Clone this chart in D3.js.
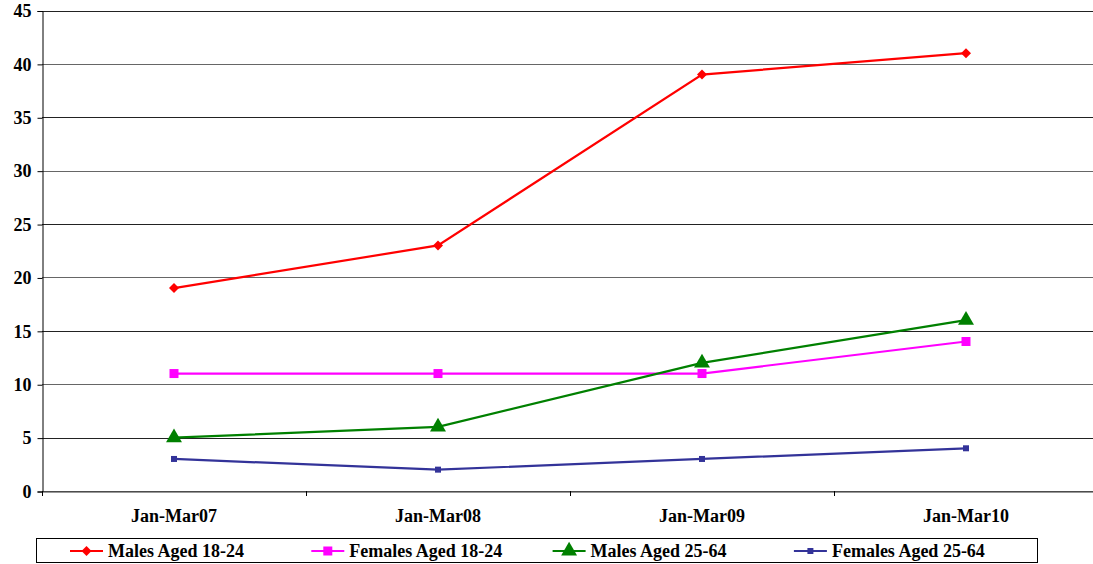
<!DOCTYPE html>
<script src='https://d3js.org/d3.v7.min.js'></script>
<html>
<body style="margin:0;background:#fff">
<div id="my_dataviz"></div>
<script>

var periods = ['Jan-Mar07', 'Jan-Mar08', 'Jan-Mar09', 'Jan-Mar10'];
var seriesNames = ['Males Aged 18-24', 'Females Aged 18-24', 'Males Aged 25-64', 'Females Aged 25-64'];
var males1824 = [19, 23, 39, 41];
var females1824 = [11, 11, 11, 14];
var males2564 = [5, 6, 12, 16];
var females2564 = [3, 2, 3, 4];
var yTicks = [0, 5, 10, 15, 20, 25, 30, 35, 40, 45];

var colors = ['#ff0000', '#ff00ff', '#008000', '#333399'];
var shapes = [d3.symbolSquare, d3.symbolSquare, d3.symbolTriangle, d3.symbolSquare];
var sizes = [50, 81, 110, 36];
var rotations = [45, 0, 0, 0];
var allSeries = [males1824, females1824, males2564, females2564];

var width = 1093, height = 564;
var plotLeft = 42, plotTop = 10.5, plotBottom = 491;

var svg = d3.select("#my_dataviz")
  .append("svg")
    .attr("width", width)
    .attr("height", height)
    .style("font-family", "'Liberation Serif', 'Times New Roman', serif")
    .style("font-weight", "bold");

var x = d3.scaleBand().domain(periods).range([plotLeft, plotLeft + 4 * 264]);
var y = d3.scaleLinear().domain([0, 45]).range([plotBottom, plotTop]);

// gridlines
svg.append("g")
  .selectAll("line")
  .data(yTicks)
  .enter().append("line")
    .attr("x1", plotLeft).attr("x2", width)
    .attr("y1", function(d) { return Math.round(y(d)) + 0.5; })
    .attr("y2", function(d) { return Math.round(y(d)) + 0.5; })
    .attr("stroke", function(d, i) { return i % 2 ? "#222" : "#666"; })
    .attr("stroke-width", 1);

// y axis
var yAxis = svg.append("g")
  .attr("transform", "translate(" + (plotLeft + 0.5) + ",0.5)")
  .call(d3.axisLeft(y).tickValues(yTicks).tickSize(5).tickPadding(6));
yAxis.select(".domain").attr("stroke", "#000");
yAxis.selectAll("text").style("font-size", "18px").style("font-family", "'Liberation Serif', serif").attr("fill", "#000");
yAxis.selectAll(".tick line").attr("stroke", "#000");

// x axis
var xAxis = svg.append("g")
  .attr("transform", "translate(0," + (Math.round(plotBottom) + 0.5) + ")")
  .call(d3.axisBottom(x).tickSize(0).tickPadding(18));
xAxis.select(".domain").attr("stroke", "#333");
xAxis.selectAll("text").style("font-size", "18px").style("font-family", "'Liberation Serif', serif").attr("fill", "#000");
svg.append("g")
  .selectAll("line")
  .data(periods)
  .enter().append("line")
    .attr("x1", function(d) { return Math.round(x(d)) + 0.5; })
    .attr("x2", function(d) { return Math.round(x(d)) + 0.5; })
    .attr("y1", plotBottom).attr("y2", plotBottom + 5)
    .attr("stroke", "#000");

// lines
var line = d3.line()
  .x(function(d, i) { return x(periods[i]) + x.bandwidth() / 2; })
  .y(function(d) { return y(d); });

allSeries.forEach(function(vals, s) {
  svg.append("path")
    .datum(vals)
    .attr("d", line)
    .attr("fill", "none")
    .attr("stroke", colors[s])
    .attr("stroke-width", 2.2);
  svg.append("g")
    .selectAll("path")
    .data(vals)
    .enter().append("path")
      .attr("transform", function(d, i) {
        return "translate(" + (x(periods[i]) + x.bandwidth() / 2) + "," + y(d) + ") rotate(" + rotations[s] + ")";
      })
      .attr("d", d3.symbol().type(shapes[s]).size(sizes[s]))
      .attr("fill", colors[s]);
});

// legend
var legend = svg.append("g");
legend.append("rect")
  .attr("x", 36.5).attr("y", 538.5)
  .attr("width", 1001).attr("height", 24)
  .attr("fill", "#fff").attr("stroke", "#000");

var items = legend.selectAll("g.item")
  .data(seriesNames)
  .enter().append("g")
    .attr("class", "item")
    .attr("transform", function(d, i) { return "translate(" + (70 + i * 241.3) + ",551)"; });

items.append("line")
  .attr("x1", 0).attr("x2", 33)
  .attr("stroke", function(d, i) { return colors[i]; })
  .attr("stroke-width", 2.2);
items.append("path")
  .attr("transform", function(d, i) { return "translate(16.5,0) rotate(" + rotations[i] + ")"; })
  .attr("d", function(d, i) { return d3.symbol().type(shapes[i]).size(sizes[i])(); })
  .attr("fill", function(d, i) { return colors[i]; });
items.append("text")
  .attr("x", 38).attr("y", 6)
  .style("font-size", "18px")
  .text(function(d) { return d; });

</script>
</body>
</html>
